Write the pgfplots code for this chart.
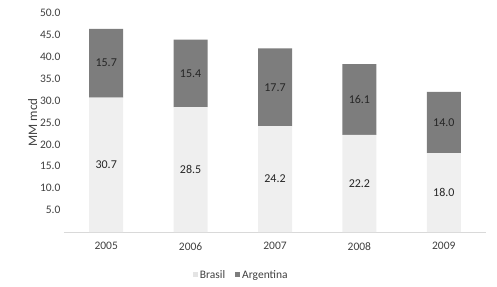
\documentclass[border=0pt]{standalone}
\usepackage{pgfplots}
\pgfplotsset{compat=1.18}
\usepackage{pgfplotstable}
\usepackage{fontspec}
\setmainfont{Carlito}
\definecolor{bras}{HTML}{EFEFEF}
\definecolor{brasleg}{HTML}{E4E4E4}
\definecolor{arg}{HTML}{7D7D7D}
\definecolor{txt}{HTML}{404040}
\pgfplotstableread{
x b a
0 30.7 15.7
1 28.5 15.4
2 24.2 17.7
3 22.2 16.1
4 18.0 14.0
}\data
\begin{document}
\begin{tikzpicture}[x=1pt,y=1pt]
\path[use as bounding box] (-64,-54) rectangle (433,232);
\begin{axis}[
  at={(0,0)}, anchor=south west,
  scale only axis, width=422pt, height=219pt,
  xmin=-0.5, xmax=4.5, ymin=0, ymax=50,
  ybar stacked, bar width=34pt,
  xtick=data, xticklabels={2005,2006,2007,2008,2009},
  ytick={5,10,...,50},
  extra y ticks={0}, extra y tick labels={},
  extra y tick style={grid=major, major grid style={draw=black!15, line width=0.8pt}},
  axis line style={draw=none},
  yticklabel style={/pgf/number format/fixed,/pgf/number format/fixed zerofill,/pgf/number format/precision=1},
  /pgf/number format/assume math mode=true,
  major tick length=0pt,
  tick label style={font=\fontsize{11.5}{13}\selectfont, text=txt},
  xticklabel style={yshift=-7pt},
  ylabel={MM mcd}, ylabel style={font=\fontsize{13}{14}\selectfont, text=txt, yshift=-4pt},
  legend style={at={(0.42,-0.196)}, anchor=center, draw=none, fill=none,
    legend columns=-1, font=\fontsize{11.5}{13}\selectfont, text=txt,
    /tikz/every even column/.append style={column sep=8pt}},
  legend image code/.code={\fill[#1] (1pt,-2.5pt) rectangle (6pt,2.5pt);},
]
\addplot[fill=bras, draw=none, legend image code/.code={\fill[brasleg] (1pt,-2.5pt) rectangle (6pt,2.5pt);}] table[x=x,y=b] {\data};
\addplot[fill=arg, draw=none] table[x=x,y=a] {\data};
\legend{Brasil, Argentina}
\end{axis}
\begin{axis}[
  at={(0,0)}, anchor=south west,
  scale only axis, width=422pt, height=219pt,
  xmin=-0.5, xmax=4.5, ymin=0, ymax=50,
  hide axis,
  nodes near coords,
  nodes near coords align={center},
  every node near coord/.append style={font=\fontsize{12}{14}\selectfont, text=black!85,
    /pgf/number format/fixed, /pgf/number format/fixed zerofill, /pgf/number format/precision=1, /pgf/number format/assume math mode=true},
]
\addplot[only marks, mark=none, point meta=explicit]
  table[x=x, y expr=\thisrow{b}/2, meta=b] {\data};
\addplot[only marks, mark=none, point meta=explicit]
  table[x=x, y expr=\thisrow{b}+\thisrow{a}/2, meta=a] {\data};
\end{axis}
\end{tikzpicture}
\end{document}
